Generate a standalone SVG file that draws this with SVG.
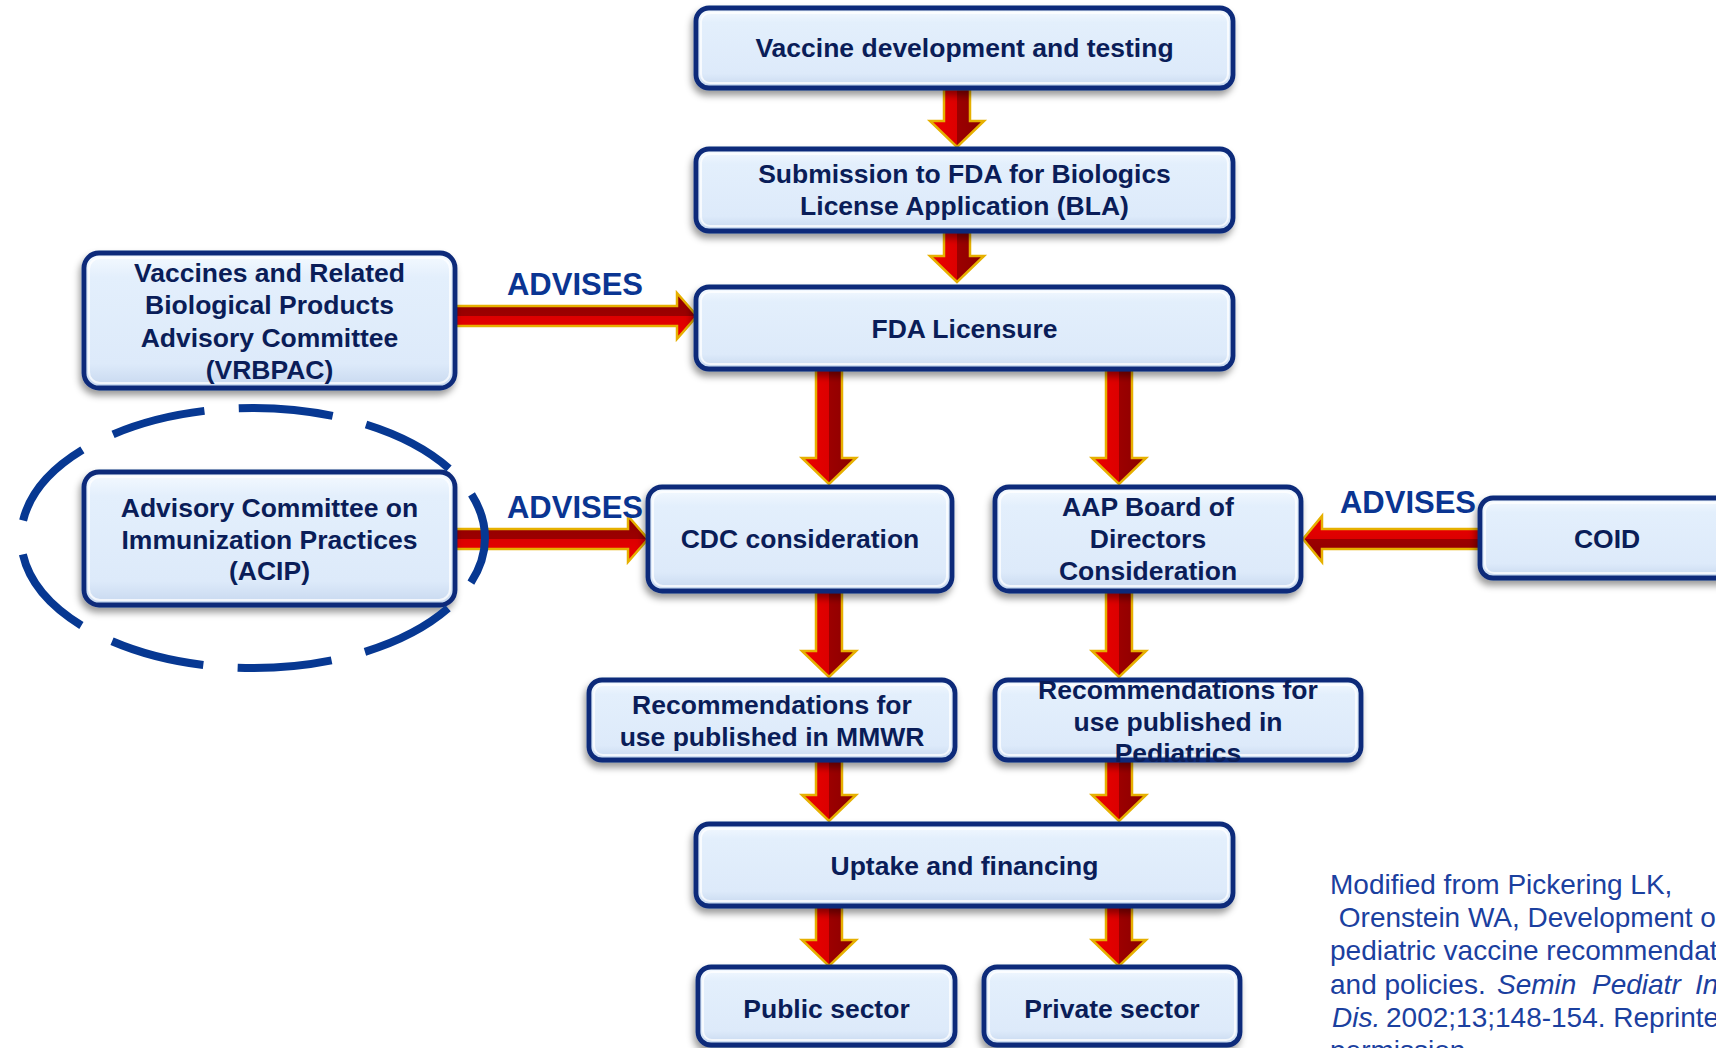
<svg xmlns="http://www.w3.org/2000/svg" width="1716" height="1048" viewBox="0 0 1716 1048">
<defs>
<style>
.box{fill:url(#gFill);stroke:#0C2C7A;stroke-width:4.8;filter:url(#sh)}
.gloss{fill:none;stroke:#FFFFFF;stroke-opacity:0.75;stroke-width:2}
.t{font-family:"Liberation Sans",Arial,Helvetica,sans-serif;font-weight:bold;font-size:26.5px;fill:#0A1D58;text-anchor:middle}
.adv{font-family:"Liberation Sans",Arial,Helvetica,sans-serif;font-weight:bold;font-size:31px;fill:#0A3592;text-anchor:middle}
.cite{font-family:"Liberation Sans",Arial,Helvetica,sans-serif;font-size:28px;fill:#1B409F}
.it{font-style:italic}
.av{fill:url(#gV);stroke:#E6B000;stroke-width:2.5;stroke-linejoin:miter}
.ahr{fill:url(#gHR);stroke:#E6B000;stroke-width:2.5}
.ahl{fill:url(#gHL);stroke:#E6B000;stroke-width:2.5}
.ring{fill:none;stroke:#073892;stroke-width:8;stroke-dasharray:94.5 34.4;stroke-dashoffset:47}
</style>
<linearGradient id="gFill" x1="0" y1="0" x2="0" y2="1">
<stop offset="0" stop-color="#F5FAFF"/>
<stop offset="0.18" stop-color="#E3EFFC"/>
<stop offset="0.82" stop-color="#DDEAFA"/>
<stop offset="1" stop-color="#C6D7EE"/>
</linearGradient>
<linearGradient id="gV" x1="0" y1="0" x2="1" y2="0">
<stop offset="0" stop-color="#EC0000"/>
<stop offset="0.5" stop-color="#DC0000"/>
<stop offset="0.5" stop-color="#9C0000"/>
<stop offset="1" stop-color="#8A0000"/>
</linearGradient>
<linearGradient id="gHR" x1="0" y1="0" x2="0" y2="1">
<stop offset="0" stop-color="#8E0000"/>
<stop offset="0.5" stop-color="#9C0000"/>
<stop offset="0.5" stop-color="#DC0000"/>
<stop offset="1" stop-color="#EC0000"/>
</linearGradient>
<linearGradient id="gHL" x1="0" y1="0" x2="0" y2="1">
<stop offset="0" stop-color="#EC0000"/>
<stop offset="0.5" stop-color="#DC0000"/>
<stop offset="0.5" stop-color="#9C0000"/>
<stop offset="1" stop-color="#8A0000"/>
</linearGradient>
<filter id="sh" x="-10%" y="-15%" width="120%" height="140%">
<feDropShadow dx="-2" dy="5" stdDeviation="3.5" flood-color="#000000" flood-opacity="0.4"/>
</filter>
</defs>
<rect width="1716" height="1048" fill="#FFFFFF"/>

<g id="connectors">
<polygon class="av" points="944,89 970,89 970,121 984,121 957,147 930,121 944,121"/>
<polygon class="av" points="944,231 970,231 970,256 984,256 957,282 930,256 944,256"/>
<polygon class="av" points="816,369 842,369 842,458 856,458 829,484 802,458 816,458"/>
<polygon class="av" points="1106,369 1132,369 1132,458 1146,458 1119,484 1092,458 1106,458"/>
<polygon class="av" points="816,591 842,591 842,651 856,651 829,677 802,651 816,651"/>
<polygon class="av" points="1106,591 1132,591 1132,651 1146,651 1119,677 1092,651 1106,651"/>
<polygon class="av" points="816,760 842,760 842,795 856,795 829,821 802,795 816,795"/>
<polygon class="av" points="1106,760 1132,760 1132,795 1146,795 1119,821 1092,795 1106,795"/>
<polygon class="av" points="816,905 842,905 842,940 856,940 829,966 802,940 816,940"/>
<polygon class="av" points="1106,905 1132,905 1132,940 1146,940 1119,966 1092,940 1106,940"/>
<polygon class="ahr" points="455,306 677,306 677,293 697,316 677,339 677,326 455,326"/>
<polygon class="ahr" points="455,529 628,529 628,516 648,539 628,562 628,549 455,549"/>
<polygon class="ahl" points="1482,529 1322,529 1322,516 1303,539 1322,562 1322,549 1482,549"/>
<text class="adv" x="575" y="295">ADVISES</text>
<text class="adv" x="575" y="518">ADVISES</text>
<text class="adv" x="1408" y="513">ADVISES</text>
</g>

<g id="n-vaccine-dev">
<rect class="box" x="696" y="8" width="537" height="80" rx="13"/>
<rect class="gloss" x="701" y="13" width="527" height="70" rx="9"/>
<text class="t" x="964.5" y="57">Vaccine development and testing</text>
</g>
<g id="n-submission">
<rect class="box" x="696" y="149" width="537" height="82" rx="13"/>
<rect class="gloss" x="701" y="154" width="527" height="72" rx="9"/>
<text class="t" x="964.5" y="183">Submission to FDA for Biologics</text>
<text class="t" x="964.5" y="215">License Application (BLA)</text>
</g>
<g id="n-fda">
<rect class="box" x="696" y="287" width="537" height="82" rx="13"/>
<rect class="gloss" x="701" y="292" width="527" height="72" rx="9"/>
<text class="t" x="964.5" y="338">FDA Licensure</text>
</g>
<g id="n-vrbpac">
<rect class="box" x="84" y="253" width="371" height="135" rx="15"/>
<rect class="gloss" x="89" y="258" width="361" height="125" rx="11"/>
<text class="t" x="269.5" y="282">Vaccines and Related</text>
<text class="t" x="269.5" y="314">Biological Products</text>
<text class="t" x="269.5" y="347">Advisory Committee</text>
<text class="t" x="269.5" y="379">(VRBPAC)</text>
</g>
<g id="n-acip">
<rect class="box" x="84" y="472" width="371" height="133" rx="15"/>
<rect class="gloss" x="89" y="477" width="361" height="123" rx="11"/>
<text class="t" x="269.5" y="517">Advisory Committee on</text>
<text class="t" x="269.5" y="549">Immunization Practices</text>
<text class="t" x="269.5" y="580">(ACIP)</text>
</g>
<ellipse id="acip-highlight" class="ring" cx="253" cy="538" rx="232" ry="130"/>
<g id="n-cdc">
<rect class="box" x="648" y="487" width="304" height="104" rx="14"/>
<rect class="gloss" x="653" y="492" width="294" height="94" rx="10"/>
<text class="t" x="800" y="548">CDC consideration</text>
</g>
<g id="n-aap">
<rect class="box" x="995" y="487" width="306" height="104" rx="14"/>
<rect class="gloss" x="1000" y="492" width="296" height="94" rx="10"/>
<text class="t" x="1148" y="516">AAP Board of</text>
<text class="t" x="1148" y="548">Directors</text>
<text class="t" x="1148" y="580">Consideration</text>
</g>
<g id="n-coid">
<rect class="box" x="1480" y="498" width="254" height="80" rx="13"/>
<rect class="gloss" x="1485" y="503" width="244" height="70" rx="9"/>
<text class="t" x="1607" y="548">COID</text>
</g>
<g id="n-mmwr">
<rect class="box" x="589" y="680" width="366" height="80" rx="13"/>
<rect class="gloss" x="594" y="685" width="356" height="70" rx="9"/>
<text class="t" x="772" y="714">Recommendations for</text>
<text class="t" x="772" y="746">use published in MMWR</text>
</g>
<g id="n-pediatrics">
<rect class="box" x="995" y="680" width="366" height="80" rx="13"/>
<rect class="gloss" x="1000" y="685" width="356" height="70" rx="9"/>
<text class="t" x="1178" y="699">Recommendations for</text>
<text class="t" x="1178" y="731">use published in</text>
<text class="t" x="1178" y="762">Pediatrics</text>
</g>
<g id="n-uptake">
<rect class="box" x="696" y="824" width="537" height="82" rx="13"/>
<rect class="gloss" x="701" y="829" width="527" height="72" rx="9"/>
<text class="t" x="964.5" y="875">Uptake and financing</text>
</g>
<g id="n-public">
<rect class="box" x="698" y="967" width="257" height="78" rx="13"/>
<rect class="gloss" x="703" y="972" width="247" height="68" rx="9"/>
<text class="t" x="826.5" y="1018">Public sector</text>
</g>
<g id="n-private">
<rect class="box" x="984" y="967" width="256" height="78" rx="13"/>
<rect class="gloss" x="989" y="972" width="246" height="68" rx="9"/>
<text class="t" x="1112" y="1018">Private sector</text>
</g>

<g id="citation">
<text class="cite" x="1330" y="894">Modified from Pickering LK,</text>
<text class="cite" x="1331" y="927" xml:space="preserve"> Orenstein WA, Development of</text>
<text class="cite" x="1330" y="960">pediatric vaccine recommendations</text>
<text class="cite" x="1330" y="994">and policies. <tspan class="it" x="1497">Semin</tspan><tspan class="it" x="1592">Pediatr</tspan><tspan class="it" x="1695">Infect</tspan></text>
<text class="cite" x="1332" y="1027"><tspan class="it">Dis.</tspan><tspan x="1386">2002;13;148-154. Reprinted with</tspan></text>
<text class="cite" x="1330" y="1060">permission.</text>
</g>
</svg>
